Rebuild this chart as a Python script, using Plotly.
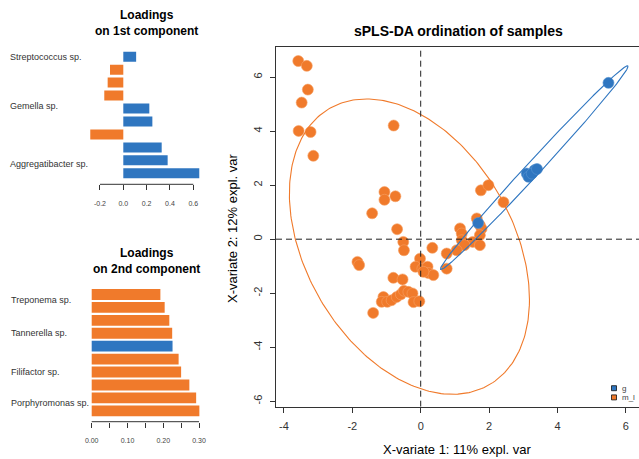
import numpy as np
import plotly.graph_objects as go

W, H = 639, 459
FONT = "Liberation Sans, Arial, sans-serif"

# ---------------- data ----------------
group_names = ["g", "m_l"]
group_colors = {"g": "#2F76C0", "m_l": "#F07A2B"}

# Loadings on component 1 (top to bottom)
comp1_values = [0.11, -0.114, -0.134, -0.163, 0.223, 0.249, -0.283, 0.329, 0.38, 0.651]
comp1_groups = ["g", "m_l", "m_l", "m_l", "g", "g", "m_l", "g", "g", "g"]
comp1_labels = ["Streptococcus sp.", "Gemella sp.", "Aggregatibacter sp."]
comp1_label_rows = [1.05, 4.78, 9.28]
comp1_tickvals = [-0.2, 0.0, 0.2, 0.4, 0.6]
comp1_ticktext = ["-0.2", "0.0", "0.2", "0.4", "0.6"]

# Loadings on component 2 (top to bottom)
comp2_values = [0.192, 0.204, 0.217, 0.225, 0.226, 0.243, 0.250, 0.273, 0.292, 0.301]
comp2_groups = ["m_l", "m_l", "m_l", "m_l", "g", "m_l", "m_l", "m_l", "m_l", "m_l"]
comp2_labels = ["Treponema sp.", "Tannerella sp.", "Filifactor sp.", "Porphyromonas sp."]
comp2_label_rows = [1.45, 4.0, 6.97, 9.41]
comp2_tickvals = [0.0, 0.05, 0.10, 0.15, 0.20, 0.25, 0.30]
comp2_ticktext = ["0.00", "", "0.10", "", "0.20", "", "0.30"]

# Scatter axis ticks
x3_tickvals = [-4, -2, 0, 2, 4, 6]
x3_ticktext = ["-4", "-2", "0", "2", "4", "6"]
y3_tickvals = [-6, -4, -2, 0, 2, 4, 6]
y3_ticktext = ["-6", "-4", "-2", "0", "2", "4", "6"]

# Sample scores
g_x = [5.49, 3.10, 3.33, 3.15, 3.25, 3.40, 1.68]
g_y = [5.79, 2.43, 2.56, 2.31, 2.43, 2.60, 0.60]
ml_x = [-3.58, -3.33, -3.30, -3.48, -3.57, -3.22, -3.14,
        -0.79, -1.06, -1.06, -0.74, -1.42, -0.69,
        -0.51, -0.49, 0.34, -1.85, -1.80,
        -0.02, -0.15, 0.05, 0.20, 0.22, 0.37, 0.08,
        -0.80, -0.53,
        -1.09, -1.14, -0.98, -0.85, -0.70, -0.58, -0.49, -0.36, -0.24, -0.21, -0.04, -1.39,
        2.42, 1.76, 1.98, 1.64, 1.73, 1.15, 1.20, 1.78, 1.73, 1.20, 1.52, 1.73, 1.28, 1.05, 0.76, 0.76]
ml_y = [6.60, 6.42, 5.54, 5.06, 4.01, 3.97, 3.09,
        4.21, 1.75, 1.46, 1.59, 0.96, 0.37,
        -0.10, -0.41, -0.32, -0.84, -0.96,
        -0.72, -1.02, -1.09, -1.02, -1.25, -1.33, -1.21,
        -1.43, -1.49,
        -2.14, -2.32, -2.32, -2.26, -2.14, -2.04, -1.91, -1.95, -2.01, -2.33, -2.30, -2.73,
        1.37, 1.81, 2.00, 0.77, 0.52, 0.40, 0.21, 0.39, 0.15, -0.04, -0.10, -0.22, -0.22, -0.41, -0.53, -1.09]

# Confidence ellipses: centre, half-extents, correlation
ell_groups = ["g", "m_l"]
ell_cx = [3.32, -0.33]
ell_cy = [2.65, -0.275]
ell_hx = [2.745, 3.51]
ell_hy = [3.775, 5.47]
ell_r = [0.9945, -0.359]

x_title = "X-variate 1: 11% expl. var"
y_title = "X-variate 2: 12% expl. var"
main_title = "sPLS-DA ordination of samples"

# ---------------- helpers ----------------
def fx(px):
    return px / W

def fy(py):
    return 1 - py / H

fig = go.Figure()

# top loadings
rows1 = list(range(1, len(comp1_values) + 1))
fig.add_trace(go.Bar(
    x=comp1_values, y=rows1, orientation="h", width=0.77,
    marker=dict(color=[group_colors[g] for g in comp1_groups], line=dict(width=0)),
    xaxis="x", yaxis="y", showlegend=False, hoverinfo="skip"))

# bottom loadings
rows2 = list(range(1, len(comp2_values) + 1))
fig.add_trace(go.Bar(
    x=comp2_values, y=rows2, orientation="h", width=0.84,
    marker=dict(color=[group_colors[g] for g in comp2_groups], line=dict(width=0)),
    xaxis="x2", yaxis="y2", showlegend=False, hoverinfo="skip"))

# scatter points
fig.add_trace(go.Scatter(
    x=ml_x, y=ml_y, mode="markers", xaxis="x3", yaxis="y3", showlegend=False,
    marker=dict(size=11, color=group_colors["m_l"], line=dict(width=1, color="rgba(246,160,100,0.6)")),
    hoverinfo="skip"))
fig.add_trace(go.Scatter(
    x=g_x, y=g_y, mode="markers", xaxis="x3", yaxis="y3", showlegend=False,
    marker=dict(size=11, color=group_colors["g"], line=dict(width=1, color="rgba(90,150,210,0.6)")),
    hoverinfo="skip"))

# ellipses
t = np.linspace(0, 2 * np.pi, 300)
for g, cx, cy, hx, hy, r in zip(ell_groups, ell_cx, ell_cy, ell_hx, ell_hy, ell_r):
    ex = cx + hx * np.cos(t)
    ey = cy + hy * (r * np.cos(t) + np.sqrt(1 - r * r) * np.sin(t))
    fig.add_trace(go.Scatter(
        x=ex, y=ey, mode="lines", xaxis="x3", yaxis="y3", showlegend=False,
        line=dict(color=group_colors[g], width=1.1), hoverinfo="skip"))

# ---------------- axes ----------------
tickfont_small = dict(family=FONT, size=7, color="#444")

# top loadings axes
x1_px_per = 116.7
x1_zero = 123.3
x1_dom = (80, 212)
y1_line = 184.3
fig.update_layout(
    xaxis=dict(domain=[fx(x1_dom[0]), fx(x1_dom[1])],
               range=[(x1_dom[0] - x1_zero) / x1_px_per, (x1_dom[1] - x1_zero) / x1_px_per],
               anchor="free", position=fy(y1_line), showline=False, showgrid=False, zeroline=False,
               ticks="outside", ticklen=5, tickwidth=1, tickcolor="#333",
               tickvals=comp1_tickvals, ticktext=comp1_ticktext, tickfont=tickfont_small,
               ticklabelstandoff=7),
    yaxis=dict(domain=[fy(179.8), fy(50.2)], range=[10.5, 0.5], visible=False, anchor="x"),
)

# bottom loadings axes
x2_px_per = 357.7
x2_zero = 91.7
x2_dom = (85, 212)
y2_line = 421.7
fig.update_layout(
    xaxis2=dict(domain=[fx(x2_dom[0]), fx(x2_dom[1])],
                range=[(x2_dom[0] - x2_zero) / x2_px_per, (x2_dom[1] - x2_zero) / x2_px_per],
                anchor="free", position=fy(y2_line), showline=False, showgrid=False, zeroline=False,
                ticks="outside", ticklen=5, tickwidth=1, tickcolor="#333",
                tickvals=comp2_tickvals, ticktext=comp2_ticktext, tickfont=tickfont_small,
                ticklabelstandoff=7),
    yaxis2=dict(domain=[fy(417.3), fy(288.0)], range=[10.5, 0.5], visible=False, anchor="x2"),
)

# scatter axes
x3_left, x3_right = 276, 639
x3_zero, x3_per = 420.7, 34.2
y3_top, y3_bot = 47, 406.7
y3_zero, y3_per = 239.2, 27.0
fig.update_layout(
    xaxis3=dict(domain=[fx(x3_left), 1],
                range=[(x3_left - x3_zero) / x3_per, (x3_right - x3_zero) / x3_per],
                anchor="y3", showline=True, mirror=True, linecolor="#333", linewidth=1,
                showgrid=False, zeroline=False, ticks="outside", ticklen=5, tickcolor="#333",
                tickvals=x3_tickvals, ticktext=x3_ticktext,
                tickfont=dict(family=FONT, size=11, color="#333"), ticklabelstandoff=4),
    yaxis3=dict(domain=[fy(y3_bot), fy(y3_top)],
                range=[(y3_zero - y3_bot) / y3_per, (y3_zero - y3_top) / y3_per],
                anchor="x3", showline=True, linecolor="#333", linewidth=1,
                showgrid=False, zeroline=False, ticks="outside", ticklen=5, tickcolor="#333",
                tickvals=y3_tickvals, ticktext=y3_ticktext, tickangle=-90,
                tickfont=dict(family=FONT, size=11, color="#333"), ticklabelstandoff=4),
)

shapes = []
# R-style axis lines for loadings panels
shapes.append(dict(type="line", xref="x", yref="paper", x0=comp1_tickvals[0], x1=comp1_tickvals[-1],
                   y0=fy(y1_line), y1=fy(y1_line), line=dict(color="#333", width=1)))
shapes.append(dict(type="line", xref="x2", yref="paper", x0=comp2_tickvals[0], x1=comp2_tickvals[-1],
                   y0=fy(y2_line), y1=fy(y2_line), line=dict(color="#333", width=1)))
# dashed zero lines
xr = fig.layout.xaxis3.range
yr = fig.layout.yaxis3.range
shapes.append(dict(type="line", xref="x3", yref="y3", x0=0, x1=0, y0=yr[0], y1=yr[1],
                   line=dict(color="#222", width=1, dash="6px,4px")))
shapes.append(dict(type="line", xref="x3", yref="y3", x0=xr[0], x1=xr[1], y0=0, y1=0,
                   line=dict(color="#222", width=1, dash="6px,4px")))
# legend squares
for i, g in enumerate(group_names):
    top = 385.7 + i * 9.2
    shapes.append(dict(type="rect", xref="paper", yref="paper",
                       x0=fx(611.5), x1=fx(616.5), y0=fy(top + 5), y1=fy(top),
                       fillcolor=group_colors[g], line=dict(color="#111", width=0.8)))

annotations = []
annotations.append(dict(text="<b>Loadings<br>on 1st component</b>", x=fx(146), y=fy(22.5),
                        xref="paper", yref="paper", showarrow=False, xanchor="center", yanchor="middle",
                        font=dict(family=FONT, size=12, color="#000")))
annotations.append(dict(text="<b>Loadings<br>on 2nd component</b>", x=fx(146), y=fy(260.5),
                        xref="paper", yref="paper", showarrow=False, xanchor="center", yanchor="middle",
                        font=dict(family=FONT, size=12, color="#000")))
for lab, row in zip(comp1_labels, comp1_label_rows):
    annotations.append(dict(text=lab, x=fx(8), y=row, xref="paper", yref="y", showarrow=False,
                            xanchor="left", yanchor="middle", font=dict(family=FONT, size=9, color="#333")))
for lab, row in zip(comp2_labels, comp2_label_rows):
    annotations.append(dict(text=lab, x=fx(8.5), y=row, xref="paper", yref="y2", showarrow=False,
                            xanchor="left", yanchor="middle", font=dict(family=FONT, size=9, color="#333")))
annotations.append(dict(text="<b>" + main_title + "</b>", x=fx(458.3), y=fy(31), xref="paper", yref="paper",
                        showarrow=False, xanchor="center", yanchor="middle",
                        font=dict(family=FONT, size=14, color="#000")))
annotations.append(dict(text=x_title, x=fx(457), y=fy(449), xref="paper", yref="paper",
                        showarrow=False, xanchor="center", yanchor="middle",
                        font=dict(family=FONT, size=13, color="#000")))
annotations.append(dict(text=y_title, x=fx(232), y=fy(228), xref="paper", yref="paper",
                        showarrow=False, xanchor="center", yanchor="middle", textangle=-90,
                        font=dict(family=FONT, size=13, color="#000")))
for i, g in enumerate(group_names):
    annotations.append(dict(text=g, x=fx(620), y=fy(388 + i * 9.2), xref="paper", yref="paper",
                            showarrow=False, xanchor="left", yanchor="middle",
                            font=dict(family=FONT, size=8, color="#444")))

fig.update_layout(
    width=W, height=H, margin=dict(l=0, r=0, t=0, b=0),
    paper_bgcolor="white", plot_bgcolor="white",
    font=dict(family=FONT),
    shapes=shapes, annotations=annotations, showlegend=False,
)

fig.write_html("out.html",
               config={"displayModeBar": False},
               post_script="document.body.style.margin='0px';document.body.style.padding='0px';"
                           "document.documentElement.style.overflow='hidden';")
